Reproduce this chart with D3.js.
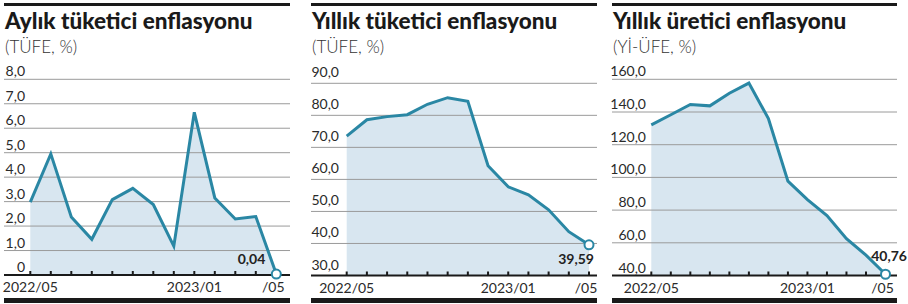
<!DOCTYPE html>
<html>
<head>
<meta charset="utf-8">
<script src="https://cdn.jsdelivr.net/npm/d3@7"></script>
<style>
  body { margin: 0; background: #fff; }
  svg { display: block; font-family: Lato, "Noto Sans", sans-serif; }
</style>
</head>
<body>
<svg id="chart" width="908" height="304"></svg>
<script>
// data
const months = ["2022/05", "2022/06", "2022/07", "2022/08", "2022/09", "2022/10", "2022/11",
  "2022/12", "2023/01", "2023/02", "2023/03", "2023/04", "2023/05"];
const monthlyCPI = [2.98, 4.95, 2.37, 1.46, 3.08, 3.54, 2.88, 1.18, 6.65, 3.15, 2.29, 2.39, 0.04];
const annualCPI = [73.50, 78.62, 79.60, 80.21, 83.45, 85.51, 84.39, 64.27, 57.68, 55.18, 50.51, 43.68, 39.59];
const annualPPI = [132.16, 138.31, 144.61, 143.75, 151.50, 157.69, 136.02, 97.72, 86.46, 76.61, 62.48, 52.44, 40.76];
const ticksMonthly = [0, 1, 2, 3, 4, 5, 6, 7, 8];
const ticksCPI = [30, 40, 50, 60, 70, 80, 90];
const ticksPPI = [40, 60, 80, 100, 120, 140, 160];
const xLabels = {"2022/05": "2022/05", "2023/01": "2023/01", "2023/05": "/05"};
const titles = ["Aylık tüketici enflasyonu", "Yıllık tüketici enflasyonu", "Yıllık üretici enflasyonu"];
const subtitles = ["(TÜFE, %)", "(TÜFE, %)", "(Yİ-ÜFE, %)"];

const fmt = v => v === 0 ? "0" : d3.format(".1f")(v).replace(".", ",");
const fmtLast = v => d3.format(".2f")(v).replace(".", ",");

const lineColor = "#2a87a4", areaColor = "#d8e6f0";

const panels = [
  {values: monthlyCPI, ticks: ticksMonthly, left: 4, right: 290, x0: 30.3, x1: 276.3,
   yTop: 79.3, yBot: 275, labelX: 25, labelDy: -3, valDx: -11, valDy: -10},
  {values: annualCPI, ticks: ticksCPI, left: 311, right: 597, x0: 346.7, x1: 589,
   yTop: 83.3, yBot: 275.5, labelX: 339, labelDy: -6, valDx: 5, valDy: 19},
  {values: annualPPI, ticks: ticksPPI, left: 612, right: 897, x0: 651.3, x1: 885.5,
   yTop: 79.3, yBot: 275.5, labelX: 646, labelDy: -3, valDx: 21.5, valDy: -13.5}
];

const svg = d3.select("#chart");

panels.forEach((p, i) => {
  const g = svg.append("g");
  const x = d3.scalePoint().domain(months).range([p.x0, p.x1]);
  const y = d3.scaleLinear().domain(d3.extent(p.ticks)).range([p.yBot, p.yTop]);

  // top and bottom bars
  g.append("rect").attr("x", p.left).attr("y", 3).attr("width", p.right - p.left).attr("height", 3).attr("fill", "#1a1a1a");
  g.append("rect").attr("x", p.left).attr("y", 298).attr("width", p.right - p.left).attr("height", 5).attr("fill", "#1a1a1a");

  g.append("text").attr("x", p.left + 1).attr("y", 28.5)
    .attr("font-size", 22.5).attr("font-weight", 900).attr("fill", "#1a1a1a")
    .text(titles[i]);
  g.append("text").attr("x", p.left + 1).attr("y", 52.5)
    .attr("font-size", 17).attr("font-weight", 300).attr("fill", "#333")
    .text(subtitles[i]);

  // area
  const area = d3.area().x((d, j) => x(months[j])).y0(y(y.domain()[0])).y1(d => y(d));
  g.append("path").datum(p.values).attr("d", area).attr("fill", areaColor);

  // gridlines + labels
  const grid = g.selectAll(".grid").data(p.ticks).enter();
  grid.filter(d => d !== y.domain()[0]).append("line")
    .attr("x1", p.left).attr("x2", p.right)
    .attr("y1", d => y(d)).attr("y2", d => y(d))
    .attr("stroke", "#9a9a9a").attr("stroke-width", 1);
  grid.append("text")
    .attr("x", p.labelX).attr("y", d => y(d) + p.labelDy)
    .attr("text-anchor", "end").attr("font-size", 14).attr("fill", "#2a2a2a")
    .text(fmt);

  // x axis
  const xAxis = g.append("g").attr("transform", "translate(0," + p.yBot + ")");
  xAxis.append("line").attr("x1", p.left).attr("x2", p.right)
    .attr("stroke", "#1a1a1a").attr("stroke-width", 2);
  xAxis.selectAll(".tick").data(months).enter().append("line")
    .attr("x1", d => x(d)).attr("x2", d => x(d)).attr("y1", 0).attr("y2", -4)
    .attr("stroke", "#1a1a1a").attr("stroke-width", 2);
  xAxis.selectAll(".xl").data(months.filter(m => xLabels[m])).enter().append("text")
    .attr("x", d => x(d) - (d === "2023/05" ? 3 : 0)).attr("y", 17)
    .attr("text-anchor", "middle").attr("font-size", 14).attr("fill", "#2a2a2a")
    .text(d => xLabels[d]);

  // line
  const line = d3.line().x((d, j) => x(months[j])).y(d => y(d));
  g.append("path").datum(p.values).attr("d", line)
    .attr("fill", "none").attr("stroke", lineColor).attr("stroke-width", 3).attr("stroke-linejoin", "miter");

  const last = p.values[p.values.length - 1];
  const lx = x(months[months.length - 1]), ly = y(last);
  g.append("circle").attr("cx", lx).attr("cy", ly).attr("r", 4.5)
    .attr("fill", "#fff").attr("stroke", lineColor).attr("stroke-width", 2);
  g.append("text").attr("x", lx + p.valDx).attr("y", ly + p.valDy)
    .attr("text-anchor", "end").attr("font-size", 14).attr("font-weight", 700).attr("fill", "#222")
    .text(fmtLast(last));
});
</script>
</body>
</html>
